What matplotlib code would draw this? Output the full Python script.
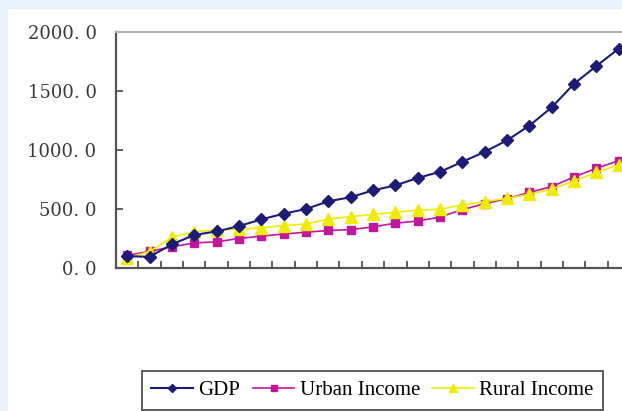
import matplotlib.pyplot as plt
from matplotlib.patches import Rectangle

# values (23 years, base ~100)
gdp = [100, 95, 200, 280, 310, 355, 412, 460, 500, 565, 600, 658, 700,
       763, 815, 900, 985, 1082, 1207, 1362, 1562, 1712, 1860]
urban = [108, 140, 180, 212, 222, 250, 270, 288, 303, 318, 325, 348, 380,
         398, 432, 495, 545, 588, 640, 690, 772, 845, 910]
rural = [88, 138, 260, 308, 322, 328, 340, 360, 372, 415, 435, 455, 472,
         490, 498, 534, 562, 590, 625, 668, 738, 810, 875]
yticks = [0, 500, 1000, 1500, 2000]

x = list(range(len(gdp)))

fig = plt.figure(figsize=(6.22, 4.11), dpi=100)
fig.patch.set_facecolor('#e8f0f9')
fig.patches.append(Rectangle((8 / 622, 0), 1, 1 - 9 / 411, transform=fig.transFigure,
                             facecolor='white', edgecolor='none', zorder=-10))

ax = fig.add_axes([116 / 622, 143 / 411, 514 / 622, 236 / 411])
ax.set_facecolor('white')

ax.plot(x, gdp, color='#1c1c78', lw=1.5, marker='D', ms=6.5, label='GDP', zorder=4)
ax.plot(x, urban, color='#c4169c', lw=1.2, marker='s', ms=5.5, label='Urban Income', zorder=3)
ax.plot(x, rural, color='#f0ec00', lw=1.2, marker='^', ms=8, label='Rural Income', zorder=3)

ax.set_xlim(-0.5, len(gdp) - 0.5)
ax.set_ylim(0, 2000)
ax.set_xticks([i + 0.5 for i in range(len(gdp))])
ax.set_xticklabels([])
ax.set_yticks(yticks)
ax.set_yticklabels(['%d. 0' % v for v in yticks], family='DejaVu Serif',
                   fontsize=13, color='#3a3a3a')
ax.tick_params(axis='x', direction='in', length=5, width=1.2, color='#444444')
ax.tick_params(axis='y', direction='in', length=5, width=1.2, color='#444444', pad=14)

for s in ['left', 'bottom']:
    ax.spines[s].set_color('#555555')
    ax.spines[s].set_linewidth(1.6)
ax.spines['top'].set_color('#b0b0b0')
ax.spines['top'].set_linewidth(1.5)
ax.spines['right'].set_visible(False)

leg = fig.legend(loc='center', bbox_to_anchor=(0.599, 0.05), ncol=3, frameon=True,
                 fancybox=False, prop={'family': 'Liberation Serif', 'size': 15},
                 handlelength=2.0, handletextpad=0.25, columnspacing=0.6,
                 markerscale=0.7, borderpad=0.45, borderaxespad=0)
leg.get_frame().set_edgecolor('#333333')
leg.get_frame().set_linewidth(1.4)

fig.savefig('out.png', dpi=100, facecolor=fig.get_facecolor())
